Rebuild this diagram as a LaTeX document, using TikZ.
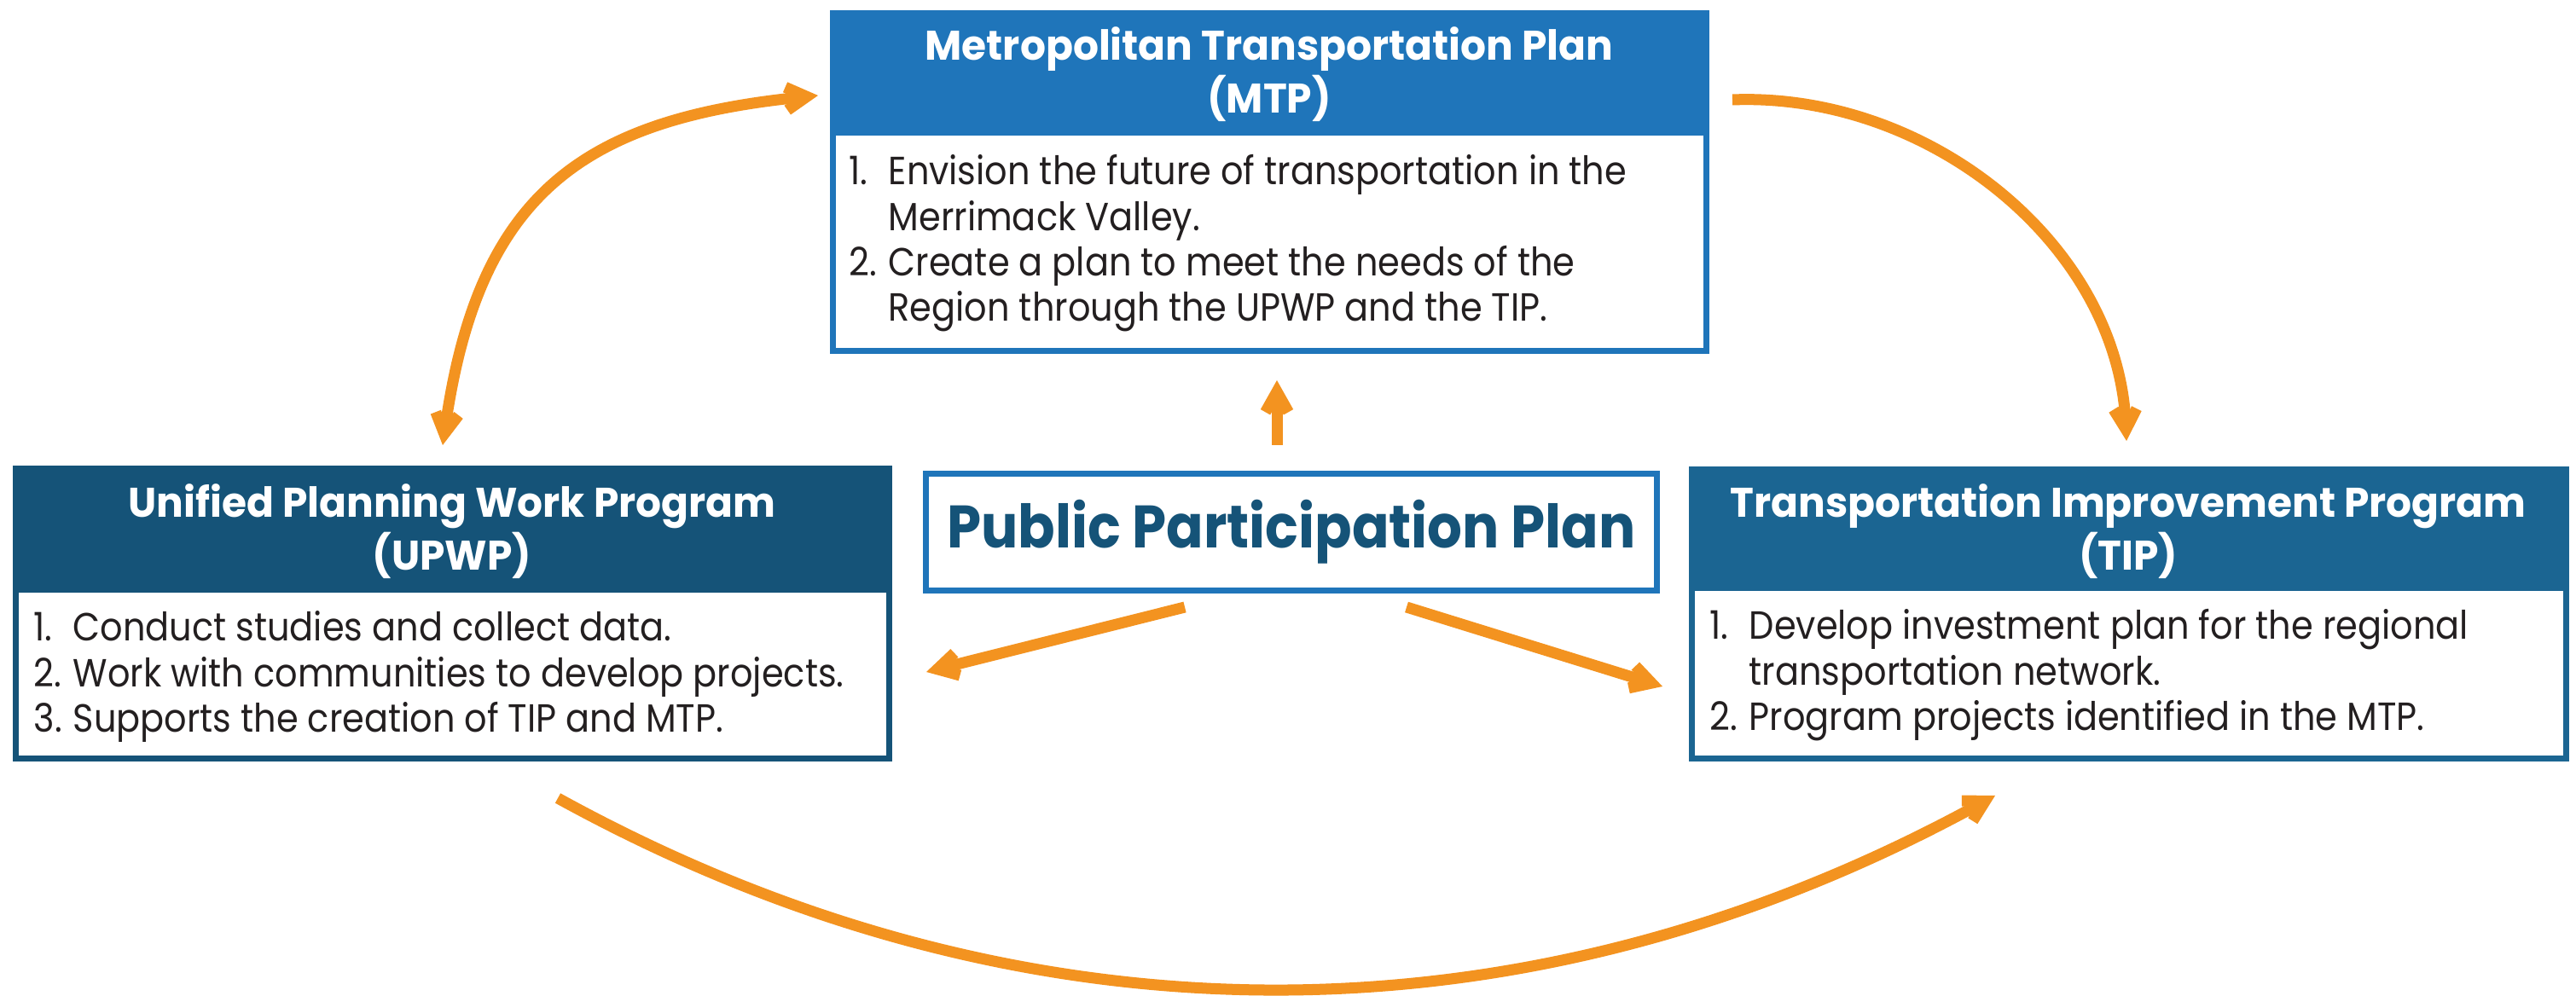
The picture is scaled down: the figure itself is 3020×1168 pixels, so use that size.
\documentclass[tikz,border=0pt]{standalone}
\usepackage{fontspec}
\setmainfont{Poppins}
\newfontfamily\bodyfont[FakeStretch=0.9]{Poppins}
\newfontfamily\headfont[FakeStretch=0.97]{Poppins}
\newfontfamily\pppfont[FakeStretch=0.913]{Poppins}
\usetikzlibrary{arrows.meta}
\definecolor{mtpblue}{RGB}{31,117,186}
\definecolor{upwpblue}{RGB}{21,83,120}
\definecolor{tipblue}{RGB}{27,101,146}
\definecolor{flowor}{RGB}{243,147,32}
\definecolor{inkc}{RGB}{35,31,32}
\newcommand\itemno[1]{\makebox[0.46cm][l]{#1}}
\begin{document}
\begin{tikzpicture}[x=0.01cm,y=-0.01cm,
  boxouter/.style={rectangle, inner sep=0pt, outer sep=0pt, anchor=north west},
  boxinner/.style={rectangle, fill=white, inner sep=0pt, outer sep=0pt, anchor=north west},
  headtext/.style={anchor=base, text=white, inner sep=0pt, font=\headfont\bfseries\fontsize{13.8}{16.5}\selectfont},
  bodytext/.style={anchor=base west, text=inkc, inner sep=0pt, font=\bodyfont\fontsize{13.1}{15.1}\selectfont},
  pppbox/.style={rectangle, draw=mtpblue, line width=0.07cm, fill=white, inner sep=0pt},
  ppptext/.style={anchor=base, text=upwpblue, inner sep=0pt, font=\pppfont\bfseries\fontsize{20}{24}\selectfont},
  flow/.style={draw=flowor, line width=0.13cm},
  flowarrow/.style={flow, -{Straight Barb[length=0.24cm,width=0.27cm]}},
  flowboth/.style={flow, {Straight Barb[length=0.24cm,width=0.27cm]}-{Straight Barb[length=0.24cm,width=0.27cm]}}
]
\fill[white] (0,0) rectangle (3020,1168);
\useasboundingbox (0,0) rectangle (3020,1168);

% MTP
\node[boxouter, fill=mtpblue, minimum width=10.30cm, minimum height=4.03cm] (mtpbox) at (973,12) {};
\node[boxinner, minimum width=10.16cm, minimum height=2.49cm] (mtpbody) at (980,159) {};
\node[headtext] (mtphead) at (1488,71) {\begin{tabular}[t]{@{}c@{}}Metropolitan Transportation Plan\\(MTP)\end{tabular}};
\node[bodytext] (mtptext) at (995,217) {\begin{tabular}[t]{@{}l@{}l@{}}
\itemno{1.} & Envision the future of transportation in the\\
 & Merrimack Valley.\\
\itemno{2.} & Create a plan to meet the needs of the\\
 & Region through the UPWP and the TIP.
\end{tabular}};

% UPWP
\node[boxouter, fill=upwpblue, minimum width=10.30cm, minimum height=3.47cm] (upwpbox) at (15,546) {};
\node[boxinner, minimum width=10.16cm, minimum height=1.91cm] (upwpbody) at (22,695) {};
\node[headtext] (upwphead) at (530,607) {\begin{tabular}[t]{@{}c@{}}Unified Planning Work Program\\(UPWP)\end{tabular}};
\node[bodytext] (upwptext) at (39,752) {\begin{tabular}[t]{@{}l@{}l@{}}
\itemno{1.} & Conduct studies and collect data.\\
\itemno{2.} & Work with communities to develop projects.\\
\itemno{3.} & Supports the creation of TIP and MTP.
\end{tabular}};

% TIP
\node[boxouter, fill=tipblue, minimum width=10.31cm, minimum height=3.46cm] (tipbox) at (1980,547) {};
\node[boxinner, minimum width=10.17cm, minimum height=1.93cm] (tipbody) at (1987,693) {};
\node[headtext] (tiphead) at (2495,607) {\begin{tabular}[t]{@{}c@{}}Transportation Improvement Program\\(TIP)\end{tabular}};
\node[bodytext] (tiptext) at (2004,750) {\begin{tabular}[t]{@{}l@{}l@{}}
\itemno{1.} & Develop investment plan for the regional\\
 & transportation network.\\
\itemno{2.} & Program projects identified in the MTP.
\end{tabular}};

% PPP
\node[pppbox, minimum width=8.57cm, minimum height=1.37cm] (pppbox) at (1514,624) {};
\node[ppptext] (ppptext) at (1514,643) {Public Participation Plan};

% connectors
\coordinate (a1) at (519,522);
\coordinate (a2) at (959,112);
\draw[flowboth] (a1) .. controls (560,230) and (680,140) .. (a2);

\coordinate (b1) at (2031,117);
\coordinate (b2) at (2493,517);
\draw[flowarrow] (b1) .. controls (2261,108) and (2483,287) .. (b2);

\coordinate (c1) at (654,936);
\coordinate (c2) at (2339,933);
\draw[flowarrow] (c1) .. controls (1197,1235) and (1788,1235) .. (c2);

\coordinate (u1) at (1497,522);
\coordinate (u2) at (1497,446);
\draw[flowarrow] (u1) -- (u2);

\coordinate (l1) at (1389,712);
\coordinate (l2) at (1086,788);
\draw[flowarrow] (l1) -- (l2);

\coordinate (r1) at (1649,712);
\coordinate (r2) at (1949,805);
\draw[flowarrow] (r1) -- (r2);
\end{tikzpicture}
\end{document}
